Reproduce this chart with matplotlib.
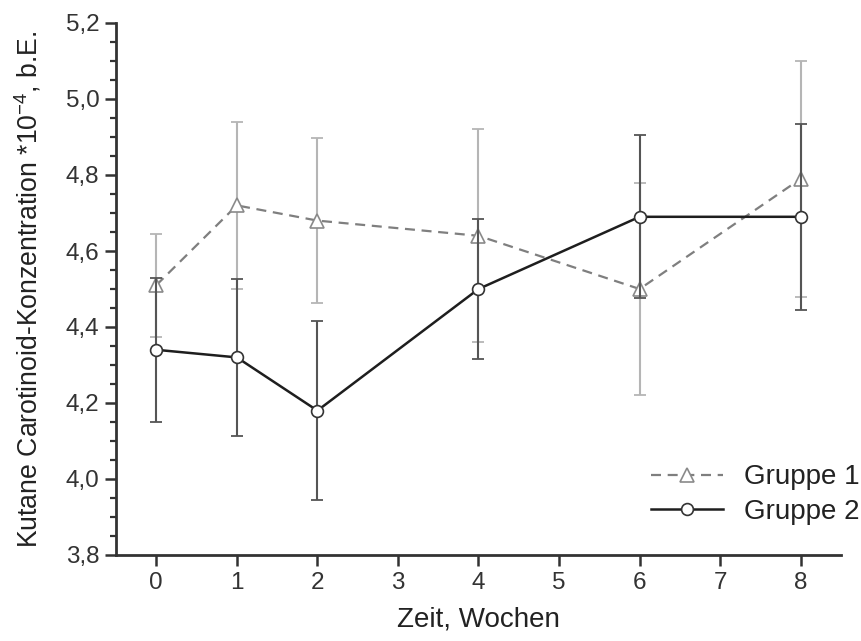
import matplotlib
matplotlib.use("Agg")
import matplotlib.pyplot as plt
from matplotlib.ticker import MultipleLocator, FuncFormatter

plt.rcParams['font.family'] = ['Liberation Sans', 'DejaVu Sans']
plt.rcParams['mathtext.fontset'] = 'custom'
plt.rcParams['mathtext.rm'] = 'Liberation Sans'
plt.rcParams['mathtext.it'] = 'Liberation Sans'

weeks = [0, 1, 2, 4, 6, 8]
g1_mean = [4.51, 4.72, 4.68, 4.64, 4.50, 4.79]
g1_sd = [0.135, 0.22, 0.217, 0.28, 0.28, 0.31]
g2_mean = [4.34, 4.32, 4.18, 4.50, 4.69, 4.69]
g2_sd = [0.19, 0.207, 0.235, 0.185, 0.215, 0.245]
labels = ["Gruppe 1", "Gruppe 2"]
x_ticks = [0, 1, 2, 3, 4, 5, 6, 7, 8]

fig = plt.figure(figsize=(8.62, 6.41), dpi=100)
ax = fig.add_axes([116/862, 1-555/641, 725/862, 532/641])

ax.errorbar(weeks, g1_mean, yerr=g1_sd, fmt='none', ecolor='#b5b5b5',
            elinewidth=1.5, capsize=4, capthick=1.3, zorder=2)
l1, = ax.plot(weeks, g1_mean, color='#7f7f7f', lw=1.6, dashes=(4.5, 3),
              marker='^', markersize=10, markerfacecolor='white',
              markeredgecolor='#8a8a8a', markeredgewidth=1.2, zorder=3, label=labels[0])

ax.errorbar(weeks, g2_mean, yerr=g2_sd, fmt='none', ecolor='#555555',
            elinewidth=1.5, capsize=4, capthick=1.3, zorder=4)
l2, = ax.plot(weeks, g2_mean, color='#1e1e1e', lw=1.8, linestyle='-',
              marker='o', markersize=8.5, markerfacecolor='white',
              markeredgecolor='#333333', markeredgewidth=1.2, zorder=5, label=labels[1])

ax.set_xlim(-0.5, 8.5)
ax.set_ylim(3.8, 5.2)
ax.set_xticks(x_ticks)
ax.yaxis.set_major_locator(MultipleLocator(0.2))
ax.yaxis.set_minor_locator(MultipleLocator(0.05))
ax.yaxis.set_major_formatter(FuncFormatter(lambda v, p: f"{v:.1f}".replace('.', ',')))

for s in ['top', 'right']:
    ax.spines[s].set_visible(False)
for s in ['left', 'bottom']:
    ax.spines[s].set_linewidth(2)
    ax.spines[s].set_color('#333333')

ax.tick_params(axis='both', which='major', length=8, width=1.8, color='#333333',
               labelsize=17.5, labelcolor='#333333', direction='out', pad=4)
ax.tick_params(axis='y', which='minor', length=4.5, width=1.6, color='#333333', direction='out')

ax.set_xlabel("Zeit, Wochen", fontsize=20, color='#222222', labelpad=9)
ax.set_ylabel(r"Kutane Carotinoid-Konzentration *10$^{-4}$, b.E.", fontsize=19.2,
              color='#222222', labelpad=16)

leg = ax.legend(handles=[l1, l2], loc='lower right', bbox_to_anchor=(1.045, 0.03),
                frameon=False, fontsize=20, handlelength=2.6, handletextpad=0.75,
                labelspacing=0.32, borderpad=0)
for t in leg.get_texts():
    t.set_color('#222222')

fig.savefig("out.png", dpi=100)
